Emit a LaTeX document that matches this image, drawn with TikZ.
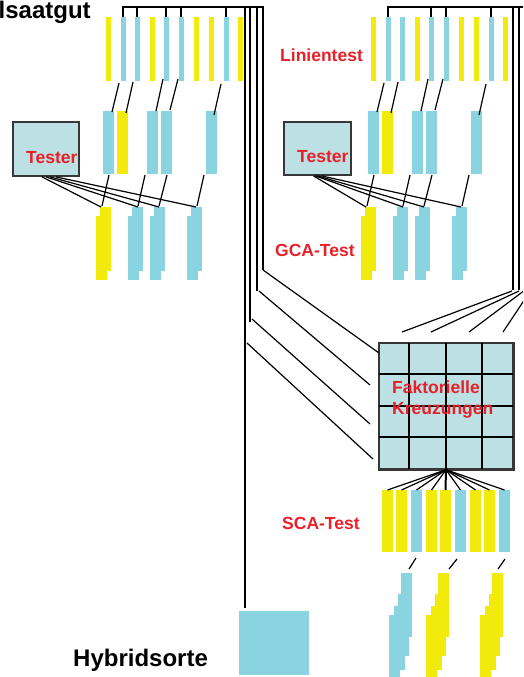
\documentclass[tikz,border=0pt]{standalone}
\usepackage{fontspec}
\setmainfont{Liberation Sans}
\definecolor{bblue}{RGB}{137,212,224}
\definecolor{byel}{RGB}{242,234,10}
\definecolor{boxfill}{RGB}{188,224,227}
\definecolor{lred}{RGB}{232,32,40}
\definecolor{edgegray}{RGB}{55,55,55}

\newcommand\myblock{%
  % top row of thin bars
  \foreach \x/\c in {108/byel,123/bblue,137/bblue,152/byel,166/bblue,181/bblue,196/byel,211/byel,226/bblue,240/byel}
    \fill[\c] (\x-2.5,17) rectangle (\x+2.5,81);
  % second row
  \foreach \a/\c in {103/bblue,117/byel,147/bblue,161/bblue,206/bblue}
    \fill[\c] (\a,111) rectangle (\a+11,174);
  % connectors top -> second row
  \foreach \a/\b/\c/\d in {119/83/112/112,133/82/126/113,163/79/156/111,178/79/170/110,221/84/214/115}
    \draw[conn] (\a,\b) -- (\c,\d);
  % third row (staircase bars)
  \foreach \a/\c in {100/byel,132/bblue,154/bblue,191/bblue}{
    \fill[\c] (\a,207) rectangle (\a+11,271);
    \fill[\c] (\a-4,216) rectangle (\a+7,280);
  }
  % connectors second -> third row
  \foreach \a/\b in {109/102,145/138,167/159,204/197}
    \draw[conn] (\a,175) -- (\b,206);
}

\begin{document}
\begin{tikzpicture}[x=1pt,y=-1pt,
  tree/.style={line width=2pt},
  conn/.style={line width=1.2pt},
  redlabel/.style={text=lred, font=\bfseries\fontsize{17.5}{20}\selectfont, anchor=base west, inner sep=0pt},
  blacklabel/.style={font=\bfseries\fontsize{24}{28}\selectfont, anchor=base west, inner sep=0pt},
  testerbox/.style={draw=edgegray, line width=1.8pt, fill=boxfill, inner sep=0pt},
]
\useasboundingbox (0,0) rectangle (523,677);
\clip (0,0) rectangle (523,677);

% ---------- left line block ----------
\myblock
\draw[tree] (123,17) -- (123,7) -- (263,7) -- (263,270);
\foreach \x in {137,166,181,226} \draw[tree] (\x,7) -- (\x,17);
\draw[tree] (257,7) -- (257,291);
\draw[tree] (250,7) -- (250,322);
\draw[tree] (245,7) -- (245,608);

% ---------- right line block ----------
\begin{scope}[xshift=265pt]
  \myblock
\end{scope}
\draw[tree] (388,17) -- (388,7) -- (540,7);
\foreach \x in {431,446,491} \draw[tree] (\x,7) -- (\x,17);
\foreach \x/\y in {513/290,519/290,525/290,531/290} \draw[tree] (\x,7) -- (\x,\y);

% ---------- testers ----------
\node[testerbox, minimum width=66pt, minimum height=54pt] (testerL) at (46,149) {};
\node[testerbox, minimum width=67pt, minimum height=53pt] (testerR) at (317.5,148.5) {};
\node[redlabel] (tLlab) at (26,163) {Tester};
\node[redlabel] (tRlab) at (297,162) {Tester};
\foreach \s/\e in {-4/101,0/138,4/159,10/196}
  \draw[conn] ([xshift=\s pt]testerL.south) -- (\e,207);
\foreach \s/\e in {-4/366,-2/403,0/424,4/461}
  \draw[conn] ([xshift=\s pt]testerR.south) -- (\e,207);

% ---------- labels ----------
\node[blacklabel] (saat) at (-1.5,19) {lsaatgut};
\node[blacklabel] (hyb) at (73,666) {Hybridsorte};
\node[redlabel] (lin) at (280,62) {Linientest};
\node[redlabel] (gca) at (275,256) {GCA-Test};
\node[redlabel] (sca) at (282,529) {SCA-Test};

% ---------- factorial grid ----------
\node[draw=edgegray, line width=1.5pt, fill=boxfill, minimum width=134pt, minimum height=126pt, inner sep=0pt] (grid) at (446,406) {};
\foreach \x in {409,446,482} \draw[tree] (\x,343) -- (\x,469);
\foreach \y in {374,406,437} \draw[tree] (379,\y) -- (513,\y);
\draw[draw=edgegray, line width=1.5pt] (grid.north west) rectangle (grid.south east);
\node[redlabel] (fak) at (392,393) {Faktorielle};
\node[redlabel] (kreuz) at (392,414) {Kreuzungen};

% lines into the grid from the left
\draw[conn] (263,270) -- (379,353);
\draw[conn] (259,291) -- (370,385);
\draw[conn] (252,319) -- (370,424);
\draw[conn] (247,343) -- (373,459);
% lines into the grid from the right
\draw[conn] (512,291) -- (402,332);
\draw[conn] (519,291) -- (431,332);
\draw[conn] (525,290) -- (469,332);
\draw[conn] (531,290) -- (503,332);

% ---------- SCA bars ----------
\foreach \a/\c in {382/byel,396/byel,411/bblue,426/byel,440/byel,455/bblue,470/byel,484/byel,499/bblue}{
  \fill[\c] (\a,490) rectangle (\a+11,552);
  \ifnum\a=440
    \draw[tree] (grid.south) -- (\a+5.5,490);
  \else
    \draw[conn] (grid.south) -- (\a+5.5,490);
  \fi
}
\draw[conn] (416,558) -- (409,569);
\draw[conn] (457,559) -- (449,569);
\draw[conn] (505,559) -- (498,569);

% ---------- bottom staircase bars ----------
\foreach \a/\c in {401/bblue,438/byel,492/byel}{
  \fill[\c] (\a,573) rectangle (\a+11,637);
  \fill[\c] (\a-3,594) rectangle (\a+8,656);
  \fill[\c] (\a-7,606) rectangle (\a+4,670);
  \fill[\c] (\a-12,615) rectangle (\a-1,677);
}

% ---------- hybrid variety ----------
\node[fill=bblue, minimum width=70pt, minimum height=64pt, inner sep=0pt] (hybbox) at (274,643) {};
\end{tikzpicture}
\end{document}
